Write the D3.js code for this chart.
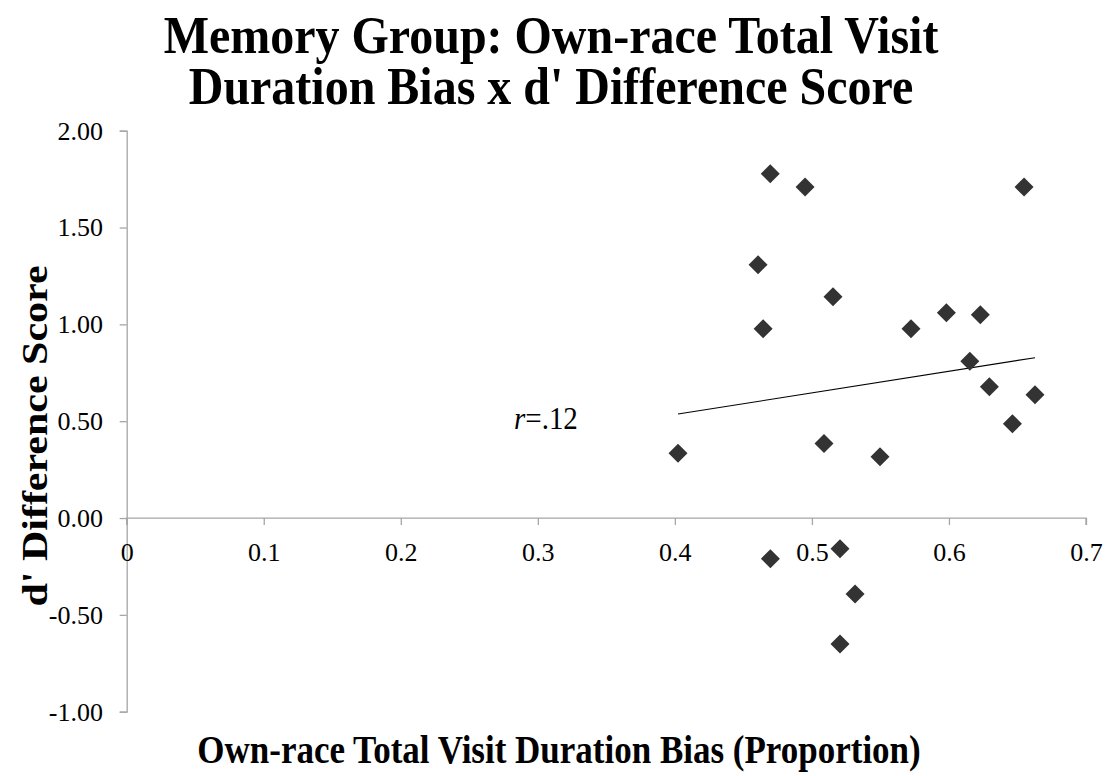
<!DOCTYPE html>
<html>
<head>
<meta charset="utf-8">
<script src="https://cdn.jsdelivr.net/npm/d3@7"></script>
<style>
  html, body { margin: 0; padding: 0; background: #fff; }
  svg { display: block; }
</style>
</head>
<body>
<svg id="chart" width="1113" height="776"></svg>
<script>
// Own-race total visit duration bias (proportion) per participant
const biasValues = [0.4696, 0.4950, 0.6548, 0.4607, 0.5154, 0.4644, 0.5723, 0.5981,
                    0.6229, 0.6152, 0.6295, 0.6628, 0.6463, 0.5088, 0.5497, 0.4023,
                    0.4697, 0.5205, 0.5315, 0.5205];
// d' difference score per participant
const dPrimeDiff = [1.778, 1.709, 1.709, 1.308, 1.143, 0.977, 0.977, 1.060,
                    1.050, 0.809, 0.678, 0.637, 0.487, 0.385, 0.317, 0.334,
                    -0.210, -0.159, -0.392, -0.651];
// Linear trend endpoints (y at the smallest and largest bias)
const trendEnds = [0.537, 0.828];
const xTicks = [0, 0.1, 0.2, 0.3, 0.4, 0.5, 0.6, 0.7];
const yTicks = [-1.0, -0.5, 0.0, 0.5, 1.0, 1.5, 2.0];

const titleLines = ["Memory Group: Own-race Total Visit", "Duration Bias x d' Difference Score"];
const xTitle = "Own-race Total Visit Duration Bias (Proportion)";
const yTitle = "d' Difference Score";

const svg = d3.select("#chart");
const serif = "'Liberation Serif', 'Times New Roman', serif";
const axisColor = "#a6a6a6";

const x = d3.scaleLinear().domain([0, 0.7]).range([126.7, 1086]);
const y = d3.scaleLinear().domain([-1, 2]).range([711.7, 130.7]);

// Title: one text block, two centred lines with slightly tall letterforms
const titleScale = 1.1;
svg.append("text")
  .attr("transform", `translate(551,53) scale(1,${titleScale})`)
  .attr("text-anchor", "middle")
  .style("font-family", serif).style("font-weight", "bold").style("font-size", "48px")
  .selectAll("tspan").data(titleLines).join("tspan")
  .attr("x", 0).attr("y", (d, i) => i * 51 / titleScale)
  .text(d => d);

// Plain hyphen for negative tick values
const fmt2 = v => d3.format(".2f")(v).replace("\u2212", "-");

// Y axis (left)
const yAxis = svg.append("g")
  .attr("transform", `translate(${x(0)},0)`)
  .call(d3.axisLeft(y).tickValues(yTicks).tickSize(7).tickPadding(16.7).tickFormat(fmt2));
yAxis.select(".domain").attr("stroke", axisColor).attr("stroke-width", 1.3);
yAxis.selectAll(".tick line").attr("stroke", axisColor).attr("stroke-width", 1.3);
yAxis.selectAll(".tick text")
  .style("font-family", serif).style("font-size", "26px").attr("fill", "#000");

// X axis crossing at y = 0
const xAxis = svg.append("g")
  .attr("transform", `translate(0,${y(0)})`)
  .call(d3.axisBottom(x).tickValues(xTicks).tickSize(7).tickPadding(18).tickFormat(d => d === 0 ? "0" : d3.format(".1f")(d)));
xAxis.select(".domain").attr("stroke", axisColor).attr("stroke-width", 1.3)
  .attr("d", `M${x(0)},7V0H${x(0.7)}V7`);
xAxis.selectAll(".tick line").attr("stroke", axisColor).attr("stroke-width", 1.3);
xAxis.selectAll(".tick text")
  .style("font-family", serif).style("font-size", "26px").attr("fill", "#000");

// Trend line
const xMin = d3.min(biasValues), xMax = d3.max(biasValues);
svg.append("line")
  .attr("x1", x(xMin)).attr("y1", y(trendEnds[0]))
  .attr("x2", x(xMax)).attr("y2", y(trendEnds[1]))
  .attr("stroke", "#000").attr("stroke-width", 1.1);

// Diamond markers
const pts = biasValues.map((b, i) => ({ b, d: dPrimeDiff[i] }));
const r = 9.5;
svg.append("g").selectAll("path").data(pts).join("path")
  .attr("d", p => {
    const cx = x(p.b), cy = y(p.d);
    return `M${cx},${cy - r}L${cx + r},${cy}L${cx},${cy + r}L${cx - r},${cy}Z`;
  })
  .attr("fill", "#333333");

// Correlation annotation
const rLabel = svg.append("text")
  .attr("transform", "translate(514,429) scale(1,1.07)")
  .style("font-family", serif).style("font-size", "29px");
rLabel.append("tspan").style("font-style", "italic").text("r");
rLabel.append("tspan").text("=.12");

// Axis titles
svg.append("text")
  .attr("transform", "translate(559,763) scale(1,1.15)")
  .attr("text-anchor", "middle")
  .style("font-family", serif).style("font-weight", "bold").style("font-size", "35px")
  .text(xTitle);

svg.append("text")
  .attr("transform", "translate(47,436) scale(1,1.2) rotate(-90)")
  .attr("text-anchor", "middle")
  .style("font-family", serif).style("font-weight", "bold").style("font-size", "35px")
  .text(yTitle);
</script>
</body>
</html>
